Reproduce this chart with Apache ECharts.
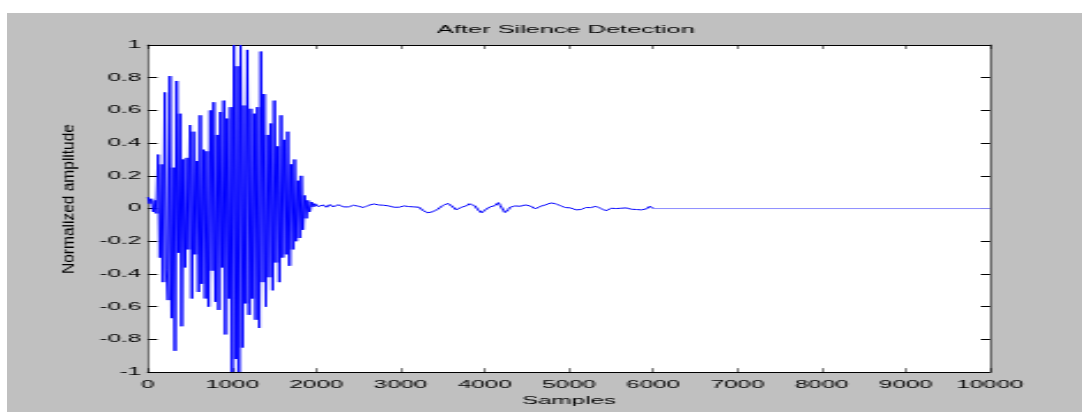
<!DOCTYPE html>
<html>
<head>
<meta charset="utf-8">
<script src="https://cdn.jsdelivr.net/npm/echarts@6/dist/echarts.min.js"></script>
<style>
html,body{margin:0;padding:0;background:#fff;width:1082px;height:412px;overflow:hidden;}
#bg{position:absolute;left:7px;top:13px;right:0;bottom:0;background:#c0c0c0;}
/* the reference figure is a horizontally stretched plot: draw at 470px wide, stretch to 1082px */
#chart{position:absolute;left:0;top:0;width:470px;height:412px;transform-origin:0 0;transform:scaleX(2.3021);}
</style>
</head>
<body>
<div id="bg"></div>
<div id="chart"></div>
<script>
// ---- data ----
const titleText = 'After Silence Detection';
const xName = 'Samples';
const yName = 'Normalized amplitude';
const xTicks = [0,1000,2000,3000,4000,5000,6000,7000,8000,9000,10000];
const yTicks = [-1,-0.8,-0.6,-0.4,-0.2,0,0.2,0.4,0.6,0.8,1];

// speech burst, samples 0..1980 every 20 samples
const burstStart = 0, burstStep = 20;
const burst = [
 0.07, 0.03, 0.06,-0.02, 0.05,-0.03, 0.33,-0.30, 0.27,-0.45,
 0.71,-0.37,-0.56, 0.81,-0.67, 0.25,-0.87, 0.78,-0.27, 0.58,
-0.72, 0.30,-0.36, 0.31,-0.25, 0.51,-0.55, 0.47,-0.28, 0.29,
-0.51, 0.57,-0.46, 0.36,-0.55, 0.35,-0.60, 0.60,-0.38, 0.65,
-0.57, 0.45,-0.62, 0.59,-0.36, 0.66,-0.77, 0.55,-0.55, 0.62,
-1.00, 1.00,-0.92, 0.87,-1.00, 1.00,-0.85, 0.63,-0.58, 0.97,
-0.65, 0.61,-0.55, 0.58,-0.68, 0.62,-0.73, 0.96,-0.45, 0.70,
-0.60, 0.45,-0.42, 0.52,-0.50, 0.66,-0.33, 0.38,-0.45, 0.57,
-0.30, 0.42,-0.28, 0.47,-0.35, 0.27,-0.25, 0.30,-0.20, 0.17,
-0.18, 0.20,-0.13, 0.08,-0.06, 0.05,-0.02, 0.04, 0.01, 0.03
];

// low-level tail, samples 2000..5980 every 20 samples
const tailStart = 2000, tailStep = 20;
const tail = [
 0.018, 0.012, 0.004, 0.014, 0.022, 0.014, 0.008, 0.018, 0.024, 0.016, 0.010, 0.014, 0.016, 0.024, 0.022, 0.014, 0.010, 0.016, 0.018, 0.010,
 0.012, 0.018, 0.020, 0.012, 0.008, 0.014, 0.018, 0.010, 0.006, 0.012, 0.016, 0.020, 0.022, 0.026, 0.028, 0.020, 0.018, 0.022, 0.016, 0.012,
 0.020, 0.014, 0.010, 0.016, 0.016, 0.010, 0.008, 0.014, 0.014, 0.008, 0.010, 0.016, 0.016, 0.010, 0.006, 0.012, 0.018, 0.012, 0.010, 0.016,
 0.014, 0.008, 0.002,-0.010,-0.018,-0.022,-0.026,-0.020,-0.014,-0.020,-0.018,-0.010,-0.004, 0.002, 0.008, 0.018, 0.026, 0.022, 0.032, 0.026,
 0.024, 0.010,-0.002,-0.008,-0.010, 0.000, 0.008, 0.002, 0.006, 0.016, 0.024, 0.030, 0.040, 0.026, 0.016, 0.004,-0.008,-0.020,-0.026,-0.018,
-0.010,-0.004, 0.002, 0.010, 0.014, 0.010, 0.018, 0.026, 0.036, 0.020, 0.008,-0.010,-0.024,-0.014,-0.006, 0.008, 0.018, 0.012, 0.016, 0.022,
 0.020, 0.014, 0.016, 0.022, 0.022, 0.016, 0.012, 0.016, 0.010, 0.004,-0.002, 0.004, 0.008, 0.014, 0.012, 0.018, 0.022, 0.026, 0.028, 0.034,
 0.040, 0.036, 0.030, 0.024, 0.022, 0.016, 0.010, 0.012, 0.006, 0.000,-0.002, 0.004, 0.004,-0.002,-0.008,-0.004,-0.010,-0.006,-0.002, 0.002,
 0.006, 0.012, 0.012, 0.006, 0.000, 0.008, 0.014, 0.010, 0.006, 0.000,-0.004,-0.010,-0.014,-0.008,-0.004, 0.002, 0.006, 0.004, 0.000, 0.006,
 0.008, 0.002,-0.002, 0.004, 0.004, 0.000, 0.002,-0.004,-0.006,-0.002,-0.006, 0.000, 0.002,-0.008,-0.016,-0.010,-0.002, 0.008, 0.014, 0.010
];

// silent (zeroed) end segment
const silenceSamples = [6000, 10000];
const silenceValues = [0, 0];

// ---- build series ----
const signalPts = [];
burst.forEach((v,i)=>signalPts.push([burstStart + i*burstStep, v]));
tail.forEach((v,i)=>signalPts.push([tailStart + i*tailStep, v]));
signalPts.push([silenceSamples[0], silenceValues[0]]);
const silencePts = silenceSamples.map((s,i)=>[s, silenceValues[i]]);

const S = 2.3021;               // horizontal stretch of the figure
const font = 'Liberation Sans, Arial, Helvetica, sans-serif';
const chart = echarts.init(document.getElementById('chart'), null, {renderer:'canvas', width: 470, height: 412});
const hTick = {show:true, inside:true, length:4, lineStyle:{color:'#000', width:1}};     // ticks on y axes
const vTick = {show:true, inside:true, length:4, lineStyle:{color:'#000', width:0.5}};   // ticks on x axes
const gridLeft = 148 / S, gridWidth = (990 - 148) / S;
chart.setOption({
  backgroundColor: 'transparent',
  animation: false,
  title: {
    text: titleText, left: 240.8, top: 19, textAlign: 'center',
    textStyle: {fontFamily: font, fontSize: 11, fontWeight: 'normal', color: '#000'}
  },
  graphic: [{
    type: 'text', x: 70 / S, y: 199, rotation: Math.PI / 2, scaleY: 1 / S,
    style: {text: yName, font: '15.5px ' + font, fill: '#000',
            textAlign: 'center', textVerticalAlign: 'middle'}
  }],
  grid: {left: gridLeft, top: 45, width: gridWidth, height: 330, show: true,
         backgroundColor: '#fff', borderWidth: 0, containLabel: false},
  xAxis: [{
    type: 'value', min: xTicks[0], max: xTicks[xTicks.length-1], interval: 1000,
    name: xName, nameLocation: 'middle', nameGap: 23,
    nameTextStyle: {fontFamily: font, fontSize: 10.5, color: '#000'},
    axisLine: {show: true, onZero: false, lineStyle: {color: '#000', width: 1}},
    axisTick: vTick,
    axisLabel: {fontFamily: font, fontSize: 10.5, color: '#000', margin: 8,
                formatter: v => String(v)},
    splitLine: {show: false}
  },{
    type: 'value', position: 'top', min: xTicks[0], max: xTicks[xTicks.length-1], interval: 1000,
    axisLine: {show: true, onZero: false, lineStyle: {color: '#000', width: 1}},
    axisTick: vTick, axisLabel: {show: false}, splitLine: {show: false}
  }],
  yAxis: [{
    type: 'value', min: yTicks[0], max: yTicks[yTicks.length-1], interval: 0.2,
    axisLine: {show: true, onZero: false, lineStyle: {color: '#000', width: 0.5}},
    axisTick: hTick,
    axisLabel: {fontFamily: font, fontSize: 10.5, color: '#000', margin: 3,
                formatter: v => String(+(+v).toFixed(1))},
    splitLine: {show: false}
  },{
    type: 'value', position: 'right', min: yTicks[0], max: yTicks[yTicks.length-1], interval: 0.2,
    axisLine: {show: true, onZero: false, lineStyle: {color: '#000', width: 0.5}},
    axisTick: hTick, axisLabel: {show: false}, splitLine: {show: false}
  }],
  series: [{
    type: 'line', data: signalPts, xAxisIndex: 0, yAxisIndex: 0,
    showSymbol: false, symbol: 'none', smooth: false, sampling: null,
    lineStyle: {color: '#0000ff', width: 1},
    clip: true
  },{
    type: 'line', data: silencePts, xAxisIndex: 0, yAxisIndex: 0,
    showSymbol: false, symbol: 'none', smooth: false,
    lineStyle: {color: '#8c8cff', width: 1},
    clip: true
  }]
});
</script>
</body>
</html>
